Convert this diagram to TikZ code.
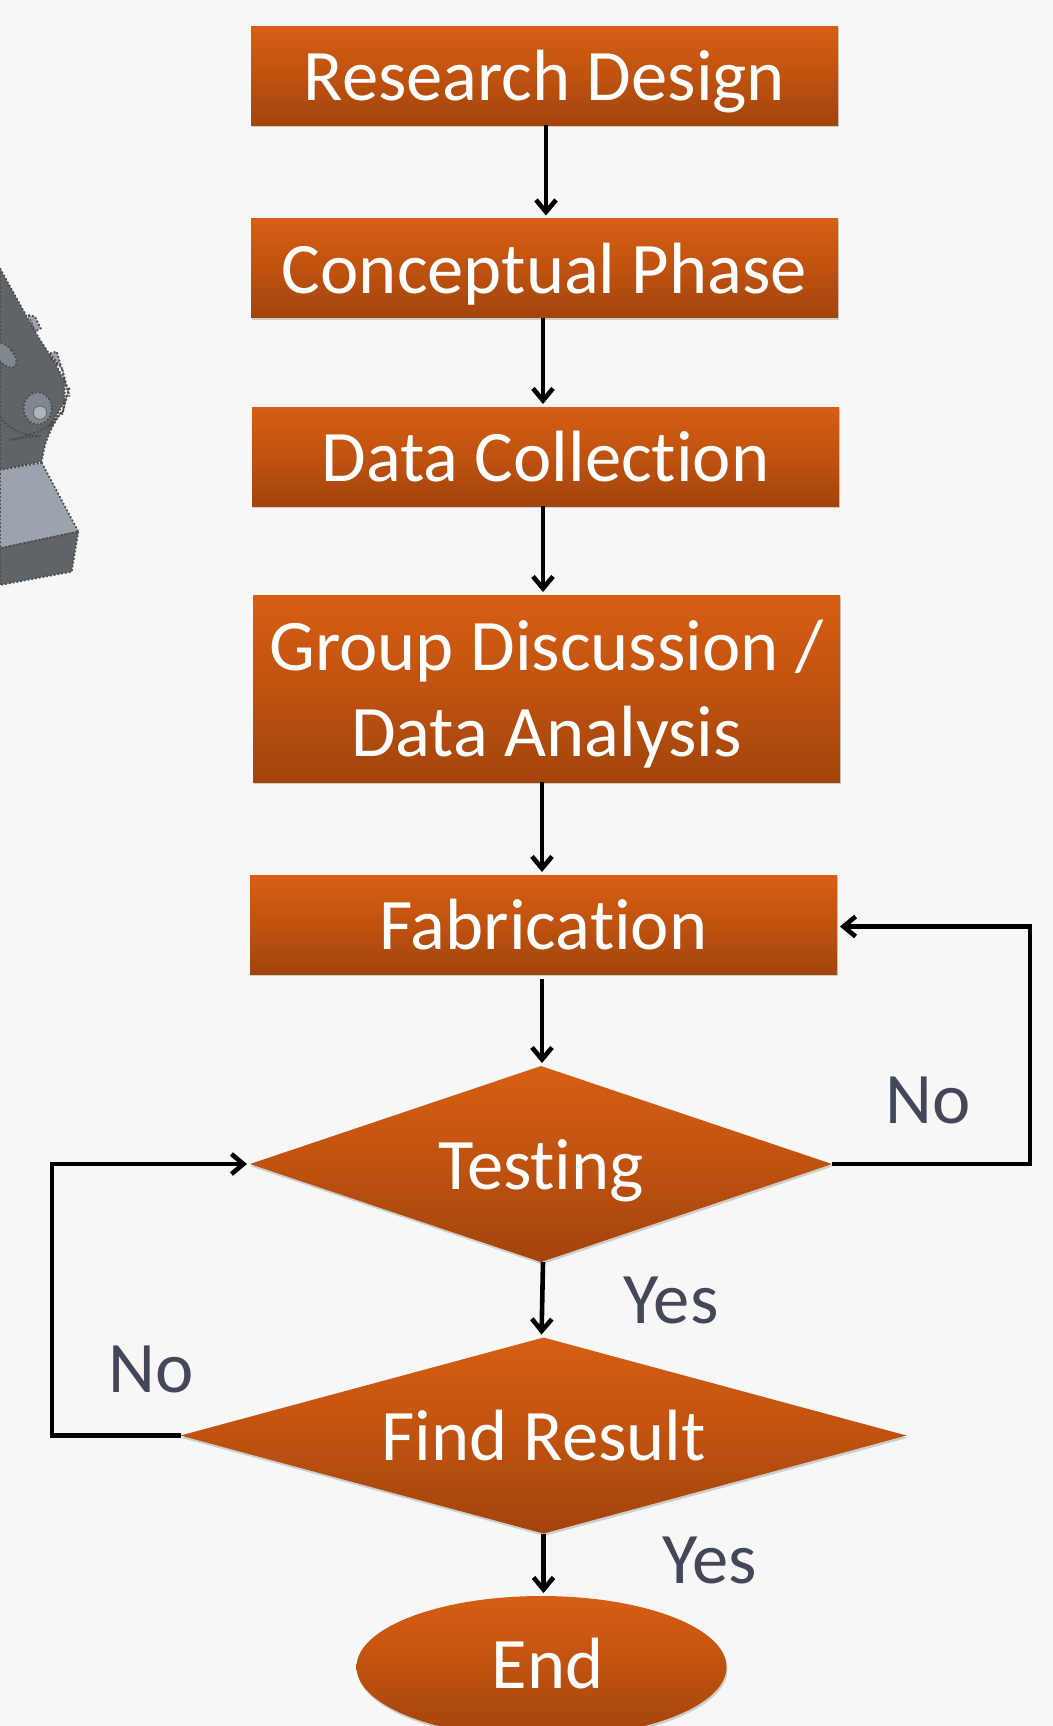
\documentclass[tikz,border=0pt]{standalone}
\usepackage{fontspec}
\setmainfont[Ligatures=CommonOff]{Carlito}
\usetikzlibrary{arrows.meta,shapes.geometric,shadows}

\definecolor{pagegrey}{HTML}{F7F7F7}
\definecolor{orangetop}{HTML}{D75E13}
\definecolor{orangebottom}{HTML}{A2440C}
\definecolor{labelslate}{HTML}{44475A}
\definecolor{partdark}{HTML}{5F6469}
\definecolor{partlight}{HTML}{9BA3AC}

\tikzset{
	orangefill/.style={top color=orangetop,bottom color=orangebottom,middle color=orangetop!55!orangebottom,text=white,font=\fontsize{36.3}{41}\selectfont,align=center,inner sep=0pt,outer sep=0pt,text height=25pt,text depth=0pt,drop shadow={shadow xshift=0.5pt,shadow yshift=-1.2pt,opacity=0.35}},
	stagebox/.style={orangefill,rectangle,minimum width=293.5pt,minimum height=49.5pt},
	flowline/.style={line width=2.3pt,black,->,>={Straight Barb[length=6pt,width=10pt]},shorten >=1.5pt},
	partedge/.style={draw=black!70,line width=0.9pt,densely dotted}
}

\begin{document}
\begin{tikzpicture}[x=0.5pt,y=-0.5pt]

	\useasboundingbox (0,0) rectangle (1053,1726);
	\fill[pagegrey] (0,0) rectangle (1053,1726);

	% part of the model, cut by the left edge
	\begin{scope}[x=0.16667pt,y=-0.16667pt,shift={(0pt,-120pt)}]
		\fill[partlight,partedge] (85,225) -- (105,230) -- (122,265) -- (105,275) -- cycle;
		\fill[partlight,partedge] (150,340) -- (170,335) -- (185,385) -- cycle;
		\fill[partdark,partedge,rounded corners=12pt] (0,85) -- (130,320) -- (190,400) -- (205,455) -- (190,510) -- (145,560) [sharp corners] -- (125,665) -- (0,690) -- cycle;
		\fill[partlight,partedge] (125,668) -- (235,875) -- (0,925) -- (0,690) -- cycle;
		\fill[partdark,partedge] (235,875) -- (215,995) -- (0,1035) -- (0,925) -- cycle;
		\draw[partedge,rounded corners=12pt] (0,530) -- (50,597) -- (100,590) -- (145,560);
		\filldraw[fill=partlight!55!partdark,partedge] (113,505) circle [x radius=42,y radius=48];
		\filldraw[fill=partlight!80!white,draw=black!60] (120,518) circle [radius=20];
		\filldraw[fill=partlight!55!partdark,partedge,rotate around={40:(15,345)}] (15,345) circle [x radius=24,y radius=45];
	\end{scope}

	\node[stagebox] (research) at (544.5,75.5) {Research Design};
	\node[stagebox] (conceptual) at (544.5,268) {Conceptual Phase};
	\node[stagebox] (collection) at (545.5,456.5) {Data Collection};
	\node[stagebox,minimum height=93.5pt,text height=68pt] (discussion) at (546.5,688.5) {Group Discussion /\\[2pt]Data Analysis};
	\node[stagebox] (fabrication) at (543.5,924.5) {Fabrication};

	\node[orangefill,diamond,aspect=3,minimum width=291pt,minimum height=98pt] (testing) at (541,1164) {Testing};
	\node[orangefill,diamond,aspect=3.7,minimum width=363pt,minimum height=98pt] (findresult) at (543.5,1435.5) {Find Result};
	\node[orangefill,ellipse,minimum width=185pt,minimum height=71pt,text height=21.5pt] (theend) at (541.5,1667) {\hspace{6pt}End};

	\begin{scope}[every node/.style={text=labelslate,font=\fontsize{36.3}{41}\selectfont}]
		\node (norightlabel) at (928.5,1100) {No};
		\node (yesfirstlabel) at (671,1300) {Yes};
		\node (noleftlabel) at (151,1369) {No};
		\node (yessecondlabel) at (709.5,1560) {Yes};
	\end{scope}

	\coordinate (turnright) at (1030,1040);
	\coordinate (turnleft) at (52,1300);

	\draw[flowline] ([xshift=0.75pt]research.south) -- ([xshift=0.75pt]conceptual.north);
	\draw[flowline] ([xshift=-0.75pt]conceptual.south) -- ([xshift=-1.25pt]collection.north);
	\draw[flowline] ([xshift=-1.25pt]collection.south) -- ([xshift=-1.75pt]discussion.north);
	\draw[flowline] ([xshift=-2.25pt]discussion.south) -- ([xshift=-0.75pt]fabrication.north);
	\draw[flowline] ([xshift=-0.75pt,yshift=-2.5pt]fabrication.south) -- ([xshift=0.5pt]testing.north);
	\draw[flowline] ([xshift=1pt]testing.south) -- ([xshift=-1pt]findresult.north);
	\draw[flowline] (findresult.south) -- ([xshift=1pt]theend.north);
	\draw[flowline] (testing.east) -| (turnright) |- ([yshift=-1pt]fabrication.east);
	\draw[flowline] (findresult.west) -| (turnleft) |- (testing.west);

\end{tikzpicture}
\end{document}
